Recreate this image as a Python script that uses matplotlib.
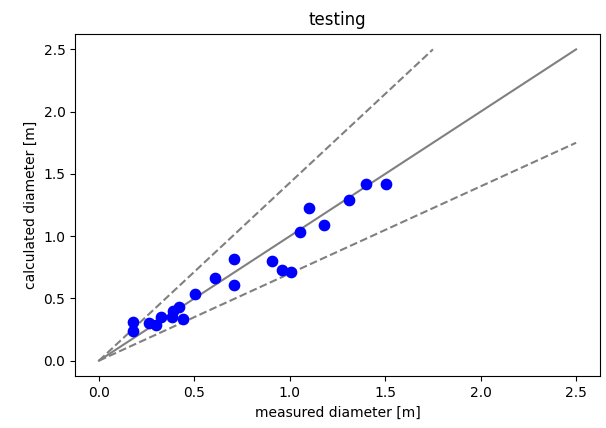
import numpy as np
import matplotlib
matplotlib.use("Agg")
import matplotlib.pyplot as plt

# measured vs calculated diameters [m]
measured = [0.18, 0.18, 0.26, 0.30, 0.325, 0.38, 0.39, 0.42, 0.44, 0.505,
            0.606, 0.71, 0.71, 0.906, 0.957, 1.005, 1.054, 1.10, 1.18, 1.31,
            1.40, 1.505]
calculated = [0.31, 0.235, 0.30, 0.29, 0.35, 0.35, 0.40, 0.43, 0.335, 0.536,
              0.665, 0.82, 0.61, 0.80, 0.73, 0.71, 1.03, 1.23, 1.09, 1.29,
              1.42, 1.42]

# reference lines: 1:1 and +/-30 % bounds
ref_x = [0, 2.5]
ref_y = [0, 2.5]
upper_x = [0, 1.75]
upper_y = [0, 2.5]
lower_x = [0, 2.5]
lower_y = [0, 1.75]

fig = plt.figure(figsize=(6.06, 4.28), dpi=100)
ax = fig.add_axes([0.124, 0.121, 0.866, 0.800])

ax.plot(ref_x, ref_y, color="grey", linestyle="-")
ax.plot(upper_x, upper_y, color="grey", linestyle="--")
ax.plot(lower_x, lower_y, color="grey", linestyle="--")
ax.scatter(measured, calculated, color="blue", s=55, zorder=3)

ax.set_xticks([0.0, 0.5, 1.0, 1.5, 2.0, 2.5])
ax.set_yticks([0.0, 0.5, 1.0, 1.5, 2.0, 2.5])
ax.set_xlabel("measured diameter [m]")
ax.set_ylabel("calculated diameter [m]")
ax.set_title("testing")

fig.savefig("out.png", dpi=100)
